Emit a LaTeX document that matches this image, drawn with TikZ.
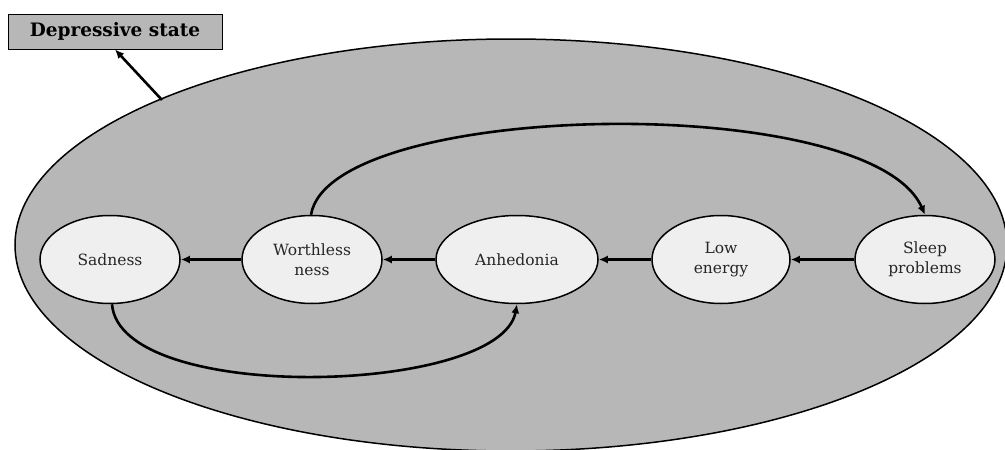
\documentclass[tikz,border=0pt]{standalone}
\usepackage{fontspec}
\setmainfont{DejaVu Serif}
\usetikzlibrary{shapes.geometric,arrows.meta}
\definecolor{outerfill}{HTML}{B7B7B7}
\definecolor{innerfill}{HTML}{EFEFEF}
\tikzset{
  sym/.style={ellipse, draw=black, line width=1.5pt, fill=innerfill, minimum width=140pt, minimum height=88pt, inner sep=0pt, align=center, font=\fontsize{15.5}{20}\selectfont, text=black!85},
  link/.style={line width=2.6pt, -{Latex[length=9pt,width=8pt]}},
  labelbox/.style={draw=black, line width=1pt, fill=outerfill, minimum width=214pt, minimum height=35pt, inner sep=0pt, font=\fontsize{18.5}{22}\selectfont\bfseries}
}
\begin{document}
\begin{tikzpicture}[x=1pt,y=-1pt]
\useasboundingbox (0,0) rectangle (1005,450);
\begin{scope}
\clip (0,0) rectangle (1005,450);
\node[ellipse, draw=black, line width=1.5pt, fill=outerfill, minimum width=992pt, minimum height=412pt, inner sep=0pt] (state) at (511,245) {};
\end{scope}
\node[labelbox] (lab) at (115,31.5) {Depressive state};
\coordinate (tail) at (162,100);
\draw[link] (tail) -- (lab.south);

\node[sym] (sad) at (110,259.5) {Sadness};
\node[sym] (wor) at (312,259.5) {Worthless\\ness};
\node[sym, minimum width=162pt] (anh) at (517,259.5) {Anhedonia};
\node[sym, minimum width=138pt] (low) at (721,259.5) {Low\\energy};
\node[sym] (slp) at (925,259.5) {Sleep\\problems};

\draw[link] (wor.west) -- (sad.east);
\draw[link] (anh.west) -- (wor.east);
\draw[link] (low.west) -- (anh.east);
\draw[link] (slp.west) -- (low.east);

\draw[link] (wor.north) ++(-1,0) coordinate (ws) (ws) .. controls (330,100) and (870,90) .. (slp.north);
\draw[link] (sad.south) ++(2,0) coordinate (ss) (ss) .. controls (120,405) and (500,395) .. (anh.south);
\end{tikzpicture}
\end{document}
